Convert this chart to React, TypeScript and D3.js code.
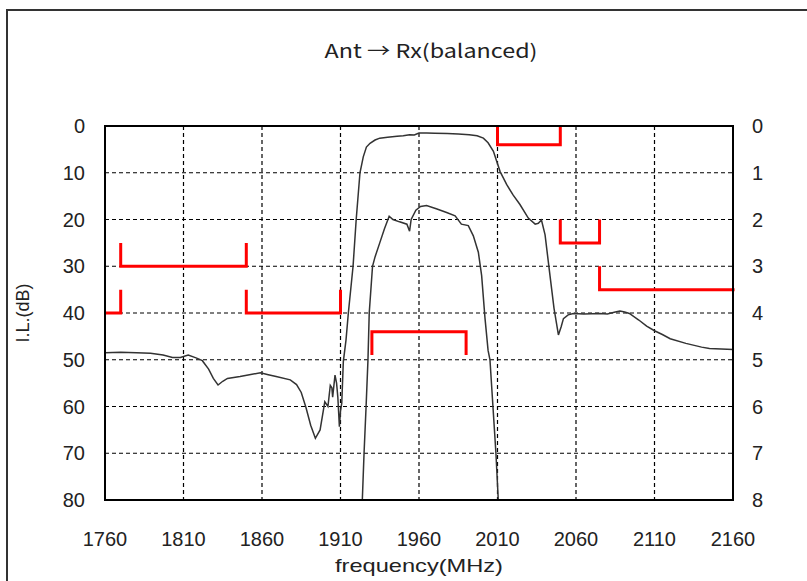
import React, { useEffect } from 'react';
import * as d3 from 'd3';

// wide-band attenuation (left axis, dB)
const wideFreq = [1760, 1770, 1780, 1789, 1797, 1803, 1808, 1813, 1818, 1822, 1826, 1829, 1832, 1835, 1838, 1846, 1852, 1859, 1864, 1869, 1878, 1882, 1885, 1888, 1891, 1894, 1897, 1899, 1900, 1902, 1903.5, 1904.5, 1905, 1906.5, 1907.5, 1908.3, 1909.3, 1910, 1910.8, 1911.8, 1913.5, 1915, 1918, 1920, 1922.4, 1924.5, 1926.5, 1928.8, 1932, 1935, 1940, 1946, 1950, 1954, 1957, 1960, 1965, 1970, 1978, 1985, 1992, 1997, 2001, 2004, 2007.4, 2011.6, 2015.8, 2020, 2024.3, 2029.6, 2034, 2036, 2038, 2040.3, 2043.4, 2046, 2048.8, 2050.5, 2052, 2055, 2058.3, 2065, 2075, 2080, 2085, 2088, 2091, 2094, 2100, 2105, 2110, 2115, 2120, 2130, 2140, 2145, 2160];
const wideLoss = [48.5, 48.4, 48.5, 48.6, 49.0, 49.5, 49.5, 49.0, 49.6, 50.2, 52, 54, 55.4, 54.6, 54.0, 53.6, 53.2, 52.8, 53.2, 53.6, 54.3, 55.3, 57, 60.2, 64, 66.8, 65, 61, 59, 60, 55.5, 56, 58, 53.3, 55, 58, 64.3, 61, 59.3, 50.4, 45.8, 40, 30, 20, 10, 6.6, 4.5, 3.7, 3.0, 2.6, 2.4, 2.2, 2.1, 1.85, 1.9, 1.5, 1.5, 1.55, 1.6, 1.7, 1.85, 2.1, 2.6, 3.6, 5.4, 9.7, 12.5, 14.8, 16.8, 19.7, 21, 20.8, 20.1, 23.3, 31.9, 39, 44.7, 43, 41.2, 40.4, 40.1, 40.2, 40.1, 40.2, 39.8, 39.6, 39.8, 40.1, 41.5, 42.8, 43.8, 44.6, 45.5, 46.5, 47.3, 47.6, 47.8];

// passband insertion loss (right axis, dB)
const passFreq = [1923.9, 1925, 1926.3, 1927.5, 1928.3, 1930.4, 1932, 1935, 1938, 1941, 1943.4, 1947.6, 1952.3, 1954, 1955, 1958, 1961, 1964.8, 1971, 1977.6, 1983, 1987, 1991.4, 1994.6, 1997.8, 1999.9, 2002, 2004, 2005.2, 2009, 2010.5];
const passLoss = [8, 7, 6, 5, 4, 3, 2.8, 2.5, 2.2, 1.93, 2.0, 2.05, 2.1, 2.25, 2.0, 1.8, 1.72, 1.7, 1.77, 1.85, 1.92, 2.1, 2.13, 2.35, 2.7, 3.2, 4.1, 4.8, 5, 7, 8];

// spec masks, [MHz, dB on left axis]
const masks: [number, number][][] = [
  [[1770, 25], [1770, 30], [1850, 30], [1850, 25]],
  [[1760, 40], [1770, 40], [1770, 35]],
  [[1850, 35], [1850, 40], [1910, 40], [1910, 35]],
  [[1930, 49], [1930, 44], [1990, 44], [1990, 49]],
  [[2010, 0], [2010, 4], [2050, 4], [2050, 0]],
  [[2050, 20], [2050, 25], [2075, 25], [2075, 20]],
  [[2075, 30], [2075, 35], [2161, 35]],
];

const freqTicks = [1760, 1810, 1860, 1910, 1960, 2010, 2060, 2110, 2160];
const lossTicks = [0, 10, 20, 30, 40, 50, 60, 70, 80];
const rightTicks = [0, 1, 2, 3, 4, 5, 6, 7, 8];

const W = 807;
const H = 581;
const m = { left: 105, right: 733, top: 126, bottom: 500 };
const font = "'Liberation Sans', Arial, sans-serif";
const jpFont = "'Noto Sans CJK JP', 'Liberation Sans', sans-serif";

export default function App() {
  useEffect(() => {
    document.body.style.margin = '0';
  }, []);

  const x = d3.scaleLinear().domain([1760, 2160]).range([m.left, m.right]);
  const y = d3.scaleLinear().domain([0, 80]).range([m.top, m.bottom]);
  const y2 = d3.scaleLinear().domain([0, 8]).range([m.top, m.bottom]);

  const line = d3.line<[number, number]>().x(d => x(d[0])).y(d => y(d[1]));
  const line2 = d3.line<[number, number]>().x(d => x(d[0])).y(d => y2(d[1]));

  const wide = wideFreq.map((f, i) => [f, wideLoss[i]] as [number, number]);
  const pass = passFreq.map((f, i) => [f, passLoss[i]] as [number, number]);

  return (
    <svg width={W} height={H} style={{ display: 'block', background: '#fff' }}>
      <defs>
        <clipPath id="plot">
          <rect x={m.left} y={m.top} width={m.right - m.left} height={m.bottom - m.top} />
        </clipPath>
      </defs>
      <rect x={7} y={10} width={W + 10} height={H + 10} fill="none" stroke="#333" strokeWidth={2} />
      <text x={431} y={58} textAnchor="middle" fontFamily={jpFont} fontSize={19} fill="#222"
        textLength={213} lengthAdjust="spacingAndGlyphs">
        Ant → Rx(balanced)
      </text>

      {/* grid */}
      {freqTicks.slice(1, -1).map(t => (
        <line key={'gx' + t} x1={x(t)} x2={x(t)} y1={m.top} y2={m.bottom} stroke="#000" strokeWidth={1.2} strokeDasharray="4,3" />
      ))}
      {lossTicks.slice(1, -1).map(t => (
        <line key={'gy' + t} x1={m.left} x2={m.right} y1={y(t)} y2={y(t)} stroke="#000" strokeWidth={1.2} strokeDasharray="4,3" />
      ))}

      {/* curves */}
      <g clipPath="url(#plot)" fill="none" stroke="#333" strokeWidth={1.5}>
        <path d={line(wide) || ''} />
        <path d={line2(pass) || ''} />
      </g>

      {/* masks */}
      <g fill="none" stroke="#ff0000" strokeWidth={3}>
        {masks.map((mk, i) => (
          <path key={i} d={line(mk) || ''} />
        ))}
      </g>

      <rect x={m.left} y={m.top} width={m.right - m.left} height={m.bottom - m.top} fill="none" stroke="#000" strokeWidth={2} />

      {/* tick labels */}
      <g fontFamily={font} fontSize={20} fill="#222">
        {lossTicks.map(t => (
          <text key={'l' + t} x={85} y={y(t)} dy="0.36em" textAnchor="end">{t}</text>
        ))}
        {rightTicks.map(t => (
          <text key={'r' + t} x={752} y={y2(t)} dy="0.36em" textAnchor="start">{t}</text>
        ))}
        {freqTicks.map(t => (
          <text key={'f' + t} x={x(t)} y={546} textAnchor="middle">{t}</text>
        ))}
      </g>
      <text x={419} y={572} textAnchor="middle" fontFamily={font} fontSize={19} fill="#222"
        textLength={168} lengthAdjust="spacingAndGlyphs">frequency(MHz)</text>
      <text transform="translate(29,313) rotate(-90)" textAnchor="middle" fontFamily={font} fontSize={18} fill="#222">I.L.(dB)</text>
    </svg>
  );
}
